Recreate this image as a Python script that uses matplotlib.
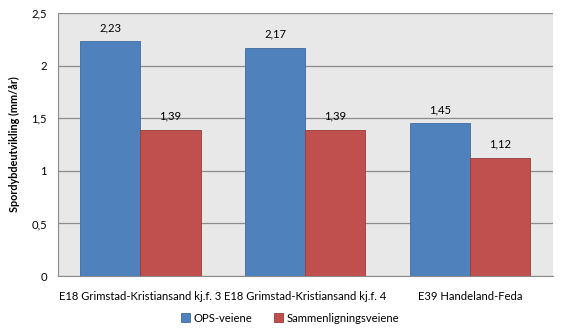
import matplotlib
matplotlib.use("Agg")
import matplotlib.pyplot as plt
import numpy as np

# Rutting data per road section
categories = ["E18 Grimstad-Kristiansand kj.f. 3",
              "E18 Grimstad-Kristiansand kj.f. 4",
              "E39 Handeland-Feda"]
ops_values = [2.23, 2.17, 1.45]
comparison_values = [1.39, 1.39, 1.12]
series_names = ["OPS-veiene", "Sammenligningsveiene"]
y_ticks = [0, 0.5, 1, 1.5, 2, 2.5]

BLUE = "#4f81bd"
RED = "#c0504d"
FONT = "Lato"
FS = 8.1

plt.rcParams["font.family"] = [FONT, "DejaVu Sans"]
plt.rcParams["font.size"] = FS

fig = plt.figure(figsize=(5.63, 3.33), dpi=100)
ax = fig.add_axes([0.103, 0.171, 0.879, 0.790])
ax.set_facecolor("#e8e8e8")

x = np.arange(len(categories))
width = 0.364
b1 = ax.bar(x - width / 2, ops_values, width, color=BLUE, edgecolor="#3f6a9e",
            linewidth=0.6, label=series_names[0], zorder=3)
b2 = ax.bar(x + width / 2, comparison_values, width, color=RED, edgecolor="#9c3c3a",
            linewidth=0.6, label=series_names[1], zorder=3)

for bars, vals in ((b1, ops_values), (b2, comparison_values)):
    for rect, v in zip(bars, vals):
        ax.text(rect.get_x() + rect.get_width() / 2, v + 0.08,
                f"{v:.2f}".replace(".", ","), ha="center", va="bottom",
                fontsize=FS)

ax.set_xlim(-0.5, len(categories) - 0.5)
ax.set_ylim(0, 2.5)
ax.set_yticks(y_ticks)
ax.set_yticklabels([f"{t:g}".replace(".", ",") for t in y_ticks])
ax.set_xticks(x)
ax.set_xticklabels(categories)
ax.tick_params(axis="both", length=0, pad=8)
ax.tick_params(axis="x", pad=11)
ax.yaxis.grid(True, color="#8c8c8c", linewidth=0.9, zorder=0)
ax.set_axisbelow(True)

for side in ("top", "right"):
    ax.spines[side].set_visible(False)
ax.spines["left"].set_color("#8c8c8c")
ax.spines["bottom"].set_color("#8c8c8c")

ax.set_ylabel("Spordybdeutvikling (mm/år)", fontsize=7.8, fontweight="bold",
              labelpad=8)

fig.legend(handles=[b1, b2], labels=series_names, loc="center",
           bbox_to_anchor=(0.515, 0.045), ncol=2, frameon=False,
           handlelength=0.8, handleheight=0.8, handletextpad=0.3,
           columnspacing=2.0, fontsize=FS)

fig.savefig("out.png", dpi=100)
